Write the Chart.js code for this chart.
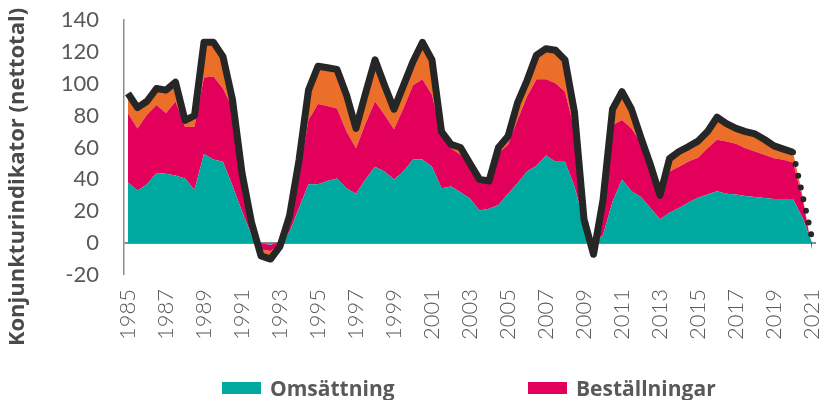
<!DOCTYPE html>
<html>
<head>
<meta charset="utf-8">
<script src="https://cdn.jsdelivr.net/npm/chart.js@4/dist/chart.umd.min.js"></script>
<style>
  html, body { margin: 0; padding: 0; background: #ffffff; overflow: hidden; }
  #wrap { position: relative; width: 826px; height: 400px; }
  #legend { position: absolute; left: 0; top: 376px; width: 826px; height: 24px; font-family: "Open Sans", Lato, sans-serif; }
  .item { position: absolute; top: 0; height: 24px; display: flex; align-items: center; }
  .sw { width: 39px; height: 12px; margin-right: 9px; }
  .lbl { font-weight: 700; font-size: 21px; color: #595959; white-space: nowrap; }
</style>
</head>
<body>
<div id="wrap">
  <canvas id="c" width="826" height="400"></canvas>
  <div id="legend"></div>
</div>
<script>
// ---- Data (half-year observations) ----
const periods = [
  '1985:1','1985:2','1986:1','1986:2','1987:1','1987:2','1988:1','1988:2','1989:1','1989:2',
  '1990:1','1990:2','1991:1','1991:2','1992:1','1992:2','1993:1','1993:2','1994:1','1994:2',
  '1995:1','1995:2','1996:1','1996:2','1997:1','1997:2','1998:1','1998:2','1999:1','1999:2',
  '2000:1','2000:2','2001:1','2001:2','2002:1','2002:2','2003:1','2003:2','2004:1','2004:2',
  '2005:1','2005:2','2006:1','2006:2','2007:1','2007:2','2008:1','2008:2','2009:1','2009:2',
  '2010:1','2010:2','2011:1','2011:2','2012:1','2012:2','2013:1','2013:2','2014:1','2014:2',
  '2015:1','2015:2','2016:1','2016:2','2017:1','2017:2','2018:1','2018:2','2019:1','2019:2',
  '2020:1','2020:2','2021:1'
];
const omsattning = [
  38,33,37,44,43.5,42.5,40.5,33.5,56,52.5,
  51,36,20,5,0,-1,1,7,22,37,
  37,39,40.5,34.5,31,40,48,45,40,45,
  52.5,52.5,48,34.5,35.5,32,28,20.5,21.5,24,
  31,37.5,45,48.5,55,51,51,35.5,13,0,
  5,26,40,32.5,29,22,15,19,22,25.5,
  28.5,30.5,32.5,31,30.5,29.5,29,28.3,27.7,27.7,
  27.7,16,0
];
const bestallningar = [
  43.5,39,43.5,42.7,38,46.3,32.5,39.5,48,52,
  46,49,22,6,-4,-4,-1,3.5,20,40.3,
  50.3,47,44,35.5,28.6,35,40.8,35.5,31.5,39.6,
  46.5,50.3,45,32.4,24.1,23.4,20.5,19,17,32.5,
  30.7,39.8,47,54.3,47.8,49.3,44,35.5,1,-3,
  17,48,37.3,39.5,33.7,25,13,26,26,25.7,
  25,29.1,32.3,32.7,31.8,30.1,28.5,27.1,25.6,24.6,
  22.9,12,-4
];
const ovrigt = [
  12.5,13,8.5,10.3,14.5,12.2,4,7,22,21.5,
  20,5,2,2,-4,-5,-2,6.5,10,18.7,
  23.7,24,24.4,23,12.4,19,26.2,18.5,12.5,14.4,
  15,23.2,22,3.1,2.4,4.6,1.5,0.5,0.5,3.5,
  5.3,10.7,10,15.2,19.2,20.7,20,11,1,-4,
  5,10,17.7,12,3.3,2,2,8,9.5,9.4,
  10.5,10.4,14.2,11.3,9.7,10.4,11,9.6,7.7,6.7,
  6.4,2,0
];
const totalIndikator = [
  94,85,89,97,96,101,77,80,126,126,
  117,90,44,13,-8,-10,-2,17,52,96,
  111,110,109,93,72,94,115,99,84,99,
  114,126,115,70,62,60,50,40,39,60,
  67,88,102,118,122,121,115,82,15,-7,
  27,84,95,84,66,49,30,53,57.5,60.6,
  64,70,79,75,72,70,68.5,65,61,59,
  57,30,3
];
const forecastStartIndex = 70;
const xTickYears = [1985,1987,1989,1991,1993,1995,1997,1999,2001,2003,2005,2007,2009,2011,2013,2015,2017,2019,2021];
const yTickValues = [-20,0,20,40,60,80,100,120,140];
const seriesNames = ['Omsättning','Beställningar','Övrigt','Konjunkturindikator'];
const yTitle = 'Konjunkturindikator (nettotal)';

// ---- helpers ----
function periodToX(p) {
  const parts = p.split(':');
  return Number(parts[0]) + (Number(parts[1]) - 1) * 0.5;
}
function toPoints(values) {
  return values.map((v, i) => ({ x: periodToX(periods[i]), y: v }));
}

const COLORS = { teal: '#00A99F', crimson: '#E3005A', orange: '#EC6F29', line: '#262626', axis: '#8C8C8C', text: '#595959', title: '#4A4A4A' };

const yTitlePlugin = {
  id: 'yTitleCustom',
  afterDraw(chart) {
    const ctx = chart.ctx;
    ctx.save();
    ctx.translate(18, 177);
    ctx.rotate(-Math.PI / 2);
    ctx.textAlign = 'center';
    ctx.textBaseline = 'middle';
    ctx.fillStyle = COLORS.title;
    ctx.font = 'bold 22px "Open Sans", Lato, sans-serif';
    ctx.fillText(yTitle, 0, 0);
    ctx.restore();
  }
};

const chart = new Chart(document.getElementById('c'), {
  type: 'line',
  data: {
    datasets: [
      { label: seriesNames[0], data: toPoints(omsattning), backgroundColor: COLORS.teal, borderWidth: 0, pointRadius: 0, fill: 'origin', stack: 'areas' },
      { label: seriesNames[1], data: toPoints(bestallningar), backgroundColor: COLORS.crimson, borderWidth: 0, pointRadius: 0, fill: '-1', stack: 'areas' },
      { label: seriesNames[2], data: toPoints(ovrigt), backgroundColor: COLORS.orange, borderWidth: 0, pointRadius: 0, fill: '-1', stack: 'areas' },
      { label: seriesNames[3], data: toPoints(totalIndikator), borderColor: COLORS.line, backgroundColor: COLORS.line, borderWidth: 7, borderJoinStyle: 'round', pointRadius: 0, fill: false, stack: 'total', order: -1,
        segment: {
          borderDash: ctx => ctx.p0DataIndex >= forecastStartIndex ? [0, 12] : undefined,
          borderCapStyle: ctx => ctx.p0DataIndex >= forecastStartIndex ? 'round' : undefined,
          borderWidth: ctx => ctx.p0DataIndex >= forecastStartIndex ? 6 : undefined
        }
      }
    ]
  },
  options: {
    responsive: false,
    animation: false,
    layout: { padding: { top: 20, right: 10, bottom: 0, left: 0 } },
    elements: { line: { tension: 0 } },
    plugins: { legend: { display: false }, tooltip: { enabled: false } },
    scales: {
      x: {
        type: 'linear',
        min: 1984.79,
        max: 2021.21,
        afterBuildTicks: s => { s.ticks = xTickYears.map(v => ({ value: v })); },
        afterFit: s => { s.height = 125; s.paddingLeft = 0; s.paddingRight = 0; },
        grid: { display: false, drawTicks: false },
        border: { display: false },
        ticks: {
          autoSkip: false, minRotation: 90, maxRotation: 90, padding: 14,
          color: COLORS.text,
          font: { family: 'Lato, "Open Sans", sans-serif', size: 22, weight: '300' },
          callback: v => String(v)
        }
      },
      y: {
        stacked: true,
        min: yTickValues[0],
        max: yTickValues[yTickValues.length - 1],
        afterBuildTicks: s => { s.ticks = yTickValues.map(v => ({ value: v })); },
        afterFit: s => { s.width = 124; s.paddingTop = 0; s.paddingBottom = 0; },
        grid: {
          drawTicks: false,
          color: c => (c.tick && c.tick.value === 0) ? COLORS.axis : 'rgba(0,0,0,0)',
          lineWidth: c => (c.tick && c.tick.value === 0) ? 2 : 0
        },
        border: { display: true, color: COLORS.axis, width: 1.5 },
        ticks: {
          padding: 25,
          color: COLORS.text,
          font: { family: 'Lato, "Open Sans", sans-serif', size: 22 },
          callback: v => String(v)
        }
      }
    }
  },
  plugins: [yTitlePlugin]
});

// HTML legend built from the chart's datasets (first two entries visible as in the reference)
(function buildLegend() {
  const positions = [222, 528];
  const lg = document.getElementById('legend');
  chart.data.datasets.slice(0, 2).forEach((ds, i) => {
    const item = document.createElement('div');
    item.className = 'item';
    item.style.left = positions[i] + 'px';
    const sw = document.createElement('span');
    sw.className = 'sw';
    sw.style.background = ds.backgroundColor;
    const t = document.createElement('span');
    t.className = 'lbl';
    t.textContent = ds.label;
    item.appendChild(sw);
    item.appendChild(t);
    lg.appendChild(item);
  });
})();
</script>
</body>
</html>
